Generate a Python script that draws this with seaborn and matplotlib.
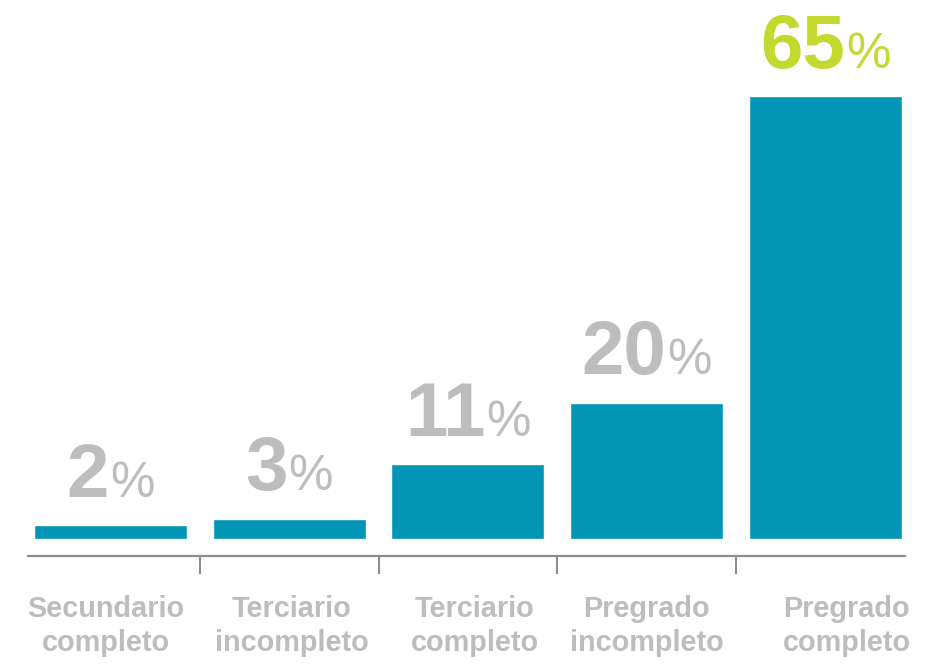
import matplotlib
matplotlib.use("Agg")
import matplotlib.pyplot as plt
import matplotlib.transforms as mtransforms
from matplotlib.offsetbox import TextArea, HPacker, AnnotationBbox
import seaborn as sns
import pandas as pd

# Education level distribution (percent)
categories = ["Secundario completo", "Terciario incompleto", "Terciario completo",
              "Pregrado incompleto", "Pregrado completo"]
values = [2, 3, 11, 20, 65]
highlight = "Pregrado completo"

BAR = "#0295B6"
GREY = "#BDBDBD"
GREEN = "#C3D92F"
AXIS = "#8C8C8C"

sns.set_theme(style="white")
plt.rcParams["font.family"] = ["Liberation Sans", "DejaVu Sans"]

W, H = 941, 664
fig = plt.figure(figsize=(W / 100, H / 100), dpi=100)
ax = fig.add_axes([28 / W, 108 / H, 877 / W, 494 / H])

df = pd.DataFrame({"nivel": categories, "pct": values})
sns.barplot(data=df, x="nivel", y="pct", color=BAR, saturation=1,
            width=0.856, ax=ax)

ax.set_xlim(-0.4615, 4.445)
ax.set_ylim(-2.5, 70)
ax.set_xlabel("")
ax.set_ylabel("")
ax.set_yticks([])

for side in ("top", "left", "right"):
    ax.spines[side].set_visible(False)
ax.spines["bottom"].set_color(AXIS)
ax.spines["bottom"].set_linewidth(1.6)

# separators between categories
ax.set_xticks([i + 0.5 for i in range(len(categories) - 1)], minor=True)
ax.tick_params(axis="x", which="minor", length=13, width=1.5, color=AXIS,
               direction="out", bottom=True)
ax.set_xticks(range(len(categories)))
ax.set_xticklabels([c.replace(" ", "\n") for c in categories],
                   fontsize=20.8, fontweight="bold", color=GREY, linespacing=1.3)
ax.tick_params(axis="x", which="major", length=0, pad=28)

# small horizontal nudges of the category captions (pixels)
nudges = [-5, 2.5, 7, 0, 21]
for lab, dx in zip(ax.get_xticklabels(), nudges):
    lab.set_transform(lab.get_transform() +
                      mtransforms.ScaledTranslation(dx / 100, 0, fig.dpi_scale_trans))

# value labels: large bold number followed by a smaller percent sign
for i, (cat, v) in enumerate(zip(categories, values)):
    col = GREEN if cat == highlight else GREY
    num = TextArea(f"{v}", textprops=dict(fontsize=55, fontweight="bold", color=col))
    pct = TextArea("%", textprops=dict(fontsize=36, color=col))
    box = HPacker(children=[num, pct], align="baseline", pad=0, sep=0.5)
    ab = AnnotationBbox(box, (i, v), xybox=(0, 9), xycoords="data",
                        boxcoords="offset points", box_alignment=(0.5, 0),
                        frameon=False, annotation_clip=False)
    ax.add_artist(ab)

fig.savefig("out.png", dpi=100)
